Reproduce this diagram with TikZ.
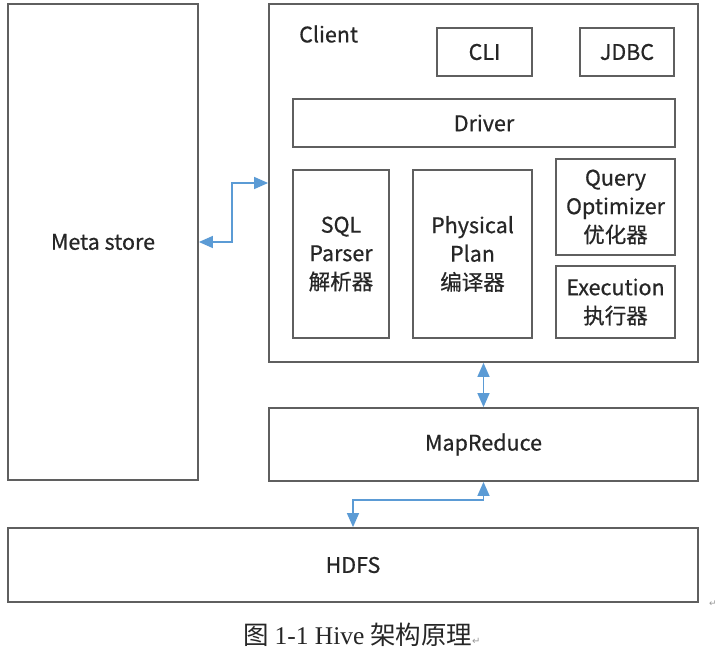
\documentclass[tikz,border=0pt]{standalone}
\usepackage{fontspec}
\setmainfont{Noto Sans CJK SC}[FakeBold=0.6]
\newfontfamily\capserif{Liberation Serif}
\newfontfamily\capcjk{Noto Sans CJK SC}
\newfontfamily\symfont{DejaVu Sans}
\usetikzlibrary{arrows.meta,calc}
\definecolor{lineblue}{RGB}{91,155,213}
\definecolor{boxgray}{RGB}{95,95,95}
\begin{document}
\begin{tikzpicture}[x=1pt,y=-1pt,
  box/.style={draw=boxgray,line width=1.8pt,fill=white,inner sep=0pt,align=center,
    font=\fontsize{21.5}{28.5}\selectfont,text=black!85},
  arr/.style={draw=lineblue,line width=1.4pt,{Triangle[length=14pt,width=12pt]}-{Triangle[length=14pt,width=12pt]}},
  parmark/.style={text=black!40,font=\symfont\fontsize{9}{10}\selectfont,inner sep=0pt}]
\useasboundingbox (0,0) rectangle (719,658);
\fill[white] (0,0) rectangle (719,658);
\node[box,minimum width=190pt,minimum height=476pt] (meta) at (103,242) {Meta store};
\node[box,minimum width=429pt,minimum height=358pt] (client) at (483.5,183) {};
\node[anchor=west,inner sep=0pt,font=\fontsize{21.5}{28}\selectfont,text=black!85] (clientlbl) at (299,34) {Client};
\node[box,minimum width=95pt,minimum height=48pt] (cli) at (484.5,52) {CLI};
\node[box,minimum width=94pt,minimum height=48pt] (jdbc) at (627,52) {JDBC};
\node[box,minimum width=382pt,minimum height=48pt] (driver) at (484,123) {Driver};
\node[box,minimum width=96pt,minimum height=168pt] (sql) at (341,254) {SQL\\Parser\\解析器};
\node[box,minimum width=119pt,minimum height=168pt] (phys) at (472.5,254) {Physical\\Plan\\编译器};
\node[box,minimum width=119pt,minimum height=96pt] (opt) at (615.5,207) {Query\\Optimizer\\优化器};
\node[box,minimum width=119pt,minimum height=72pt] (exec) at (615.5,302) {Execution\\执行器};
\node[box,minimum width=429pt,minimum height=73pt] (mr) at (483.5,444.5) {MapReduce};
\node[box,minimum width=690pt,minimum height=74pt] (hdfs) at (353,565) {HDFS};
\draw[arr] (client.west) -- ++(-36,0) |- (meta.east);
\draw[arr] (client.south) -- (mr.north);
\draw[arr] (mr.south) -- ++(0,18) -| (hdfs.north);
\node[parmark] (pm1) at (713,604) {↵};
\node[inner sep=0pt,text=black!85,font=\fontsize{25.5}{28}\selectfont] (caption) at (362,635)
  {{\capcjk 图} {\capserif 1-1 Hive} {\capcjk 架构原理}{\symfont\fontsize{10}{11}\selectfont\color{black!40}↵}};
\end{tikzpicture}
\end{document}
